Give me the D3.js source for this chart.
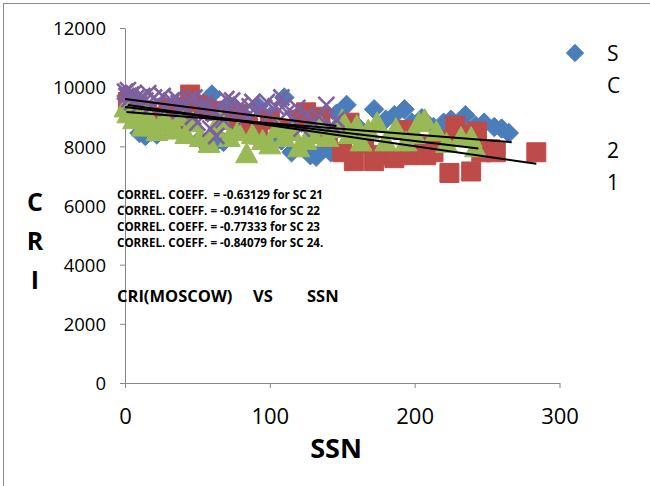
<!DOCTYPE html>
<html>
<head>
<meta charset="utf-8">
<script src="https://cdn.jsdelivr.net/npm/d3@7/dist/d3.min.js"></script>
<style>
  body { margin: 0; background: #fff; }
  svg text { font-family: "Open Sans", sans-serif; fill: #000; }
</style>
</head>
<body>
<svg id="svg1" width="650" height="486"></svg>
<script>
// SC 21 (blue diamonds)
var sc21Ssn = [1, 3, 5, 8, 10, 14, 18, 22, 26, 30, 35, 40, 45, 52, 56, 60, 64, 68, 72, 78, 85, 92, 100, 108, 110,
  115, 122, 128, 132, 138, 142, 146, 153, 160, 165, 172, 175, 180, 186, 193, 198, 205, 213, 220, 225, 235, 242,
  248, 255, 260, 265];
var sc21Cri = [9700, 9550, 9450, 9300, 8450, 8350, 8500, 8400, 8600, 9100, 9300, 8900, 9200, 8250, 8150, 9750,
  8200, 8150, 9400, 9200, 8900, 9350, 9000, 8200, 9650, 7800, 8800, 7700, 7650, 7950, 7800, 9100, 9400, 8700,
  8300, 9250, 7600, 8900, 9050, 9250, 8800, 8950, 8650, 8800, 8900, 9050, 8700, 8800, 8650, 8600, 8450];

// SC 22 (red squares)
var sc22Ssn = [2, 6, 12, 15, 20, 25, 30, 33, 38, 45, 50, 55, 62, 70, 78, 85, 92, 100, 112, 120, 125, 135, 140,
  150, 155, 158, 165, 172, 178, 186, 192, 195, 200, 205, 208, 213, 218, 224, 228, 232, 239, 243, 246, 252, 256, 284];
var sc22Cri = [9500, 9400, 9100, 9200, 9000, 8700, 9300, 8800, 9300, 9750, 9400, 9300, 9200, 8900, 9100, 8650,
  8400, 8900, 8550, 8900, 9150, 9000, 8300, 7800, 8800, 7500, 8100, 7500, 7700, 7600, 8550, 7700, 7800, 8000,
  7700, 7800, 8200, 7100, 8700, 8400, 7150, 8500, 7800, 7900, 7800, 7800];

// SC 23 (green triangles)
var sc23Ssn = [0, 2, 4, 6, 9, 12, 15, 18, 22, 26, 30, 35, 38, 42, 47, 52, 58, 62, 66, 72, 78, 84, 88, 95, 100,
  105, 110, 115, 120, 125, 130, 135, 140, 145, 150, 155, 160, 163, 168, 174, 180, 187, 194, 200, 203, 207, 215,
  222, 232, 239, 242];
var sc23Cri = [9300, 9100, 9200, 8900, 9000, 8650, 9100, 8800, 8500, 8900, 8700, 8550, 9000, 8400, 8800, 8300,
  8100, 8600, 8900, 8300, 8500, 7750, 8400, 8200, 8050, 8600, 8300, 8500, 7950, 8200, 8400, 8700, 8300, 8600,
  8900, 8400, 8700, 8150, 8550, 8800, 8150, 8600, 8150, 8400, 8800, 8900, 8500, 8100, 8300, 8300, 7950];

// SC 24 (purple crosses)
var sc24Ssn = [0, 1, 2, 3, 4, 5, 6, 8, 10, 12, 14, 16, 18, 20, 23, 26, 29, 32, 35, 38, 41, 44, 47, 50, 53, 56,
  59, 62, 63, 65, 68, 71, 74, 77, 80, 84, 88, 92, 96, 100, 104, 108, 112, 116, 119, 122, 126, 130, 134, 139, 143,
  146, 37, 48, 57, 70, 86, 98, 110];
var sc24Cri = [9850, 9700, 9900, 9600, 9750, 9500, 9800, 9650, 9400, 9700, 9550, 9800, 9350, 9650, 9500, 9700,
  9300, 9550, 9650, 9200, 9450, 9600, 9000, 8800, 9300, 9500, 8600, 9100, 8350, 9400, 8900, 9250, 9550, 9100,
  9400, 9000, 9500, 9200, 9300, 9050, 9350, 9650, 9150, 8900, 9300, 8600, 9100, 8800, 9000, 9400, 8700,
  8900, 9450, 9650, 9300, 9600, 9350, 9500, 9400];

var seriesNames = ["SC 21", "SC 22", "SC 23", "SC 24"];

// linear trendlines: [start, end] for each series
var trendSsn = [[1, 267], [2, 284], [0, 244], [0, 146]];
var trendCri = [[9160, 8140], [9400, 7410], [9330, 7930], [9600, 8690]];

var xTicks = [0, 100, 200, 300];
var yTicks = [0, 2000, 4000, 6000, 8000, 10000, 12000];

var correlLines = [
  "CORREL. COEFF.  = -0.63129 for SC 21",
  "CORREL. COEFF. = -0.91416 for SC 22",
  "CORREL. COEFF. = -0.77333 for SC 23",
  "CORREL. COEFF. = -0.84079 for SC 24."
];
var titleWords = ["CRI(MOSCOW)", "VS", "SSN"];

var colors = ["#4a7ebb", "#be4b48", "#98b954", "#7d60a0"];

var diamond = { draw: function(ctx, size) {
  var r = Math.sqrt(size) / 2;
  ctx.moveTo(0, -r); ctx.lineTo(r, 0); ctx.lineTo(0, r); ctx.lineTo(-r, 0); ctx.closePath();
}};
var triangle = { draw: function(ctx, size) {
  var s = Math.sqrt(size);
  ctx.moveTo(0, -s * 0.55); ctx.lineTo(s * 0.55, s * 0.45); ctx.lineTo(-s * 0.55, s * 0.45); ctx.closePath();
}};
var cross = { draw: function(ctx, size) {
  var r = Math.sqrt(size) / 2;
  ctx.moveTo(-r, -r); ctx.lineTo(r, r); ctx.moveTo(r, -r); ctx.lineTo(-r, r);
}};
var shapes = [diamond, d3.symbolSquare, triangle, cross];
var sizes = [380, 361, 400, 256];

var series = [
  { ssn: sc21Ssn, cri: sc21Cri },
  { ssn: sc22Ssn, cri: sc22Cri },
  { ssn: sc23Ssn, cri: sc23Cri },
  { ssn: sc24Ssn, cri: sc24Cri }
];

var margin = { top: 28, left: 125 },
    width = 434.5,
    height = 355;

var root = d3.select("#svg1");

root.append("rect")
  .attr("x", 3.5).attr("y", 3.5)
  .attr("width", 800).attr("height", 700)
  .attr("fill", "none")
  .attr("stroke", "#8c8c8c")
  .attr("stroke-width", 1);

var svg = root.append("g")
  .attr("transform", "translate(" + margin.left + "," + margin.top + ")");

var x = d3.scaleLinear().domain([0, 300]).range([0, width]);
var y = d3.scaleLinear().domain([0, 12000]).range([height, 0]);

// axes
var xAxis = svg.append("g")
  .attr("transform", "translate(0," + height + ")")
  .call(d3.axisBottom(x).tickValues(xTicks).tickFormat(d3.format("d"))
    .tickSize(5).tickSizeOuter(0).tickPadding(20));
var yAxis = svg.append("g")
  .call(d3.axisLeft(y).tickValues(yTicks).tickFormat(d3.format("d"))
    .tickSize(5).tickSizeOuter(0).tickPadding(14));

[xAxis, yAxis].forEach(function(a) {
  a.selectAll("path, line").attr("stroke", "#868686");
  a.selectAll("text").attr("fill", "#000").style("font-family", "'Open Sans', sans-serif");
});
xAxis.selectAll("text").style("font-size", "22px");
yAxis.selectAll("text").style("font-size", "18.5px").attr("dy", "0.36em");

// points
series.forEach(function(s, i) {
  var pts = s.ssn.map(function(v, j) { return [v, s.cri[j]]; });
  svg.append("g")
    .selectAll("path")
    .data(pts)
    .enter()
    .append("path")
    .attr("transform", function(d) { return "translate(" + x(d[0]) + "," + y(d[1]) + ")"; })
    .attr("d", d3.symbol().type(shapes[i]).size(sizes[i]))
    .attr("fill", i == 3 ? "none" : colors[i])
    .attr("stroke", colors[i])
    .attr("stroke-width", i == 3 ? 2.6 : 1);
});

// trendlines
series.forEach(function(s, i) {
  svg.append("line")
    .attr("x1", x(trendSsn[i][0])).attr("y1", y(trendCri[i][0]))
    .attr("x2", x(trendSsn[i][1])).attr("y2", y(trendCri[i][1]))
    .attr("stroke", "#000")
    .attr("stroke-width", 2);
});

// correlation notes
root.append("g")
  .selectAll("text")
  .data(correlLines)
  .enter()
  .append("text")
  .attr("x", 117)
  .attr("y", function(d, i) { return 199 + i * 16; })
  .style("font-size", "11.6px")
  .style("font-weight", "bold")
  .style("white-space", "pre")
  .text(function(d) { return d; });

var titleX = [117, 253, 307];
root.append("text")
  .attr("y", 302)
  .style("font-size", "16.5px")
  .style("font-weight", "bold")
  .selectAll("tspan")
  .data(titleWords)
  .enter()
  .append("tspan")
  .attr("x", function(d, i) { return titleX[i]; })
  .text(function(d) { return d; });

// axis titles
root.append("text")
  .attr("x", 336)
  .attr("y", 458)
  .attr("text-anchor", "middle")
  .style("font-size", "27px")
  .style("font-weight", "bold")
  .text("SSN");

root.append("text")
  .attr("text-anchor", "middle")
  .style("font-size", "25px")
  .style("font-weight", "bold")
  .selectAll("tspan")
  .data(["C", "R", "I"])
  .enter()
  .append("tspan")
  .attr("x", 35)
  .attr("y", function(d, i) { return 211 + i * 39; })
  .text(function(d) { return d; });

// legend (only the first entry fits, its name wraps one char per line)
root.append("path")
  .attr("transform", "translate(575,53)")
  .attr("d", d3.symbol().type(diamond).size(300))
  .attr("fill", colors[0])
  .attr("stroke", colors[0]);

root.append("text")
  .style("font-size", "21px")
  .selectAll("tspan")
  .data(seriesNames[0].split(""))
  .enter()
  .append("tspan")
  .attr("x", 607)
  .attr("y", function(d, i) { return 61 + i * 32.2; })
  .text(function(d) { return d; });
</script>
</body>
</html>
